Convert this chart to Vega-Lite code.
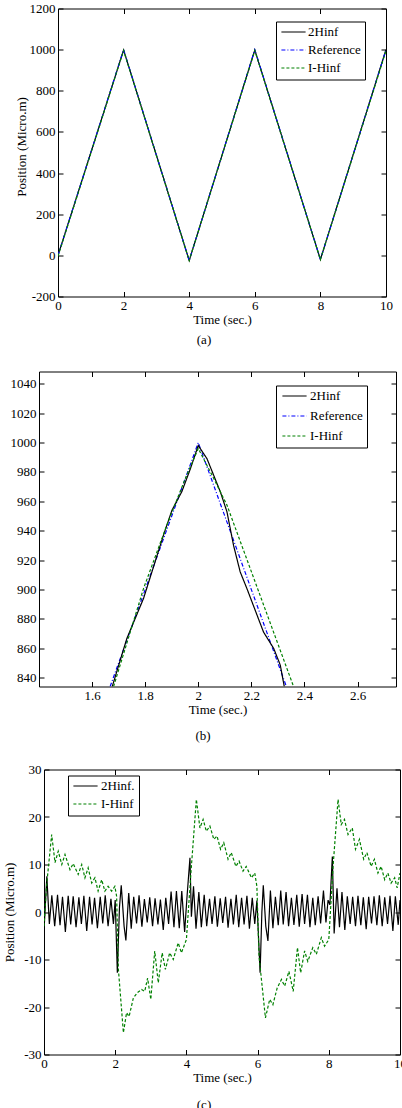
{
 "$schema": "https://vega.github.io/schema/vega-lite/v6.json",
 "padding": {"left": 0, "top": 1.5, "right": 0, "bottom": 0},
 "autosize": {"type": "pad"},
 "background": "white",
 "config": {
  "font": "Liberation Serif, Times New Roman, serif",
  "locale": {"number": {"decimal": ".", "thousands": ",", "grouping": [3], "currency": ["$", ""], "minus": "-"}},
  "view": {"stroke": null},
  "axis": {"labelFont": "Liberation Serif, Times New Roman, serif", "labelFontSize": 13, "labelColor": "black", "titleFont": "Liberation Serif, Times New Roman, serif", "titleFontSize": 13, "titleFontWeight": "normal", "titleColor": "black", "tickColor": "black", "tickSize": -5, "labelPadding": 8, "domain": false, "grid": false, "labelFlush": false, "format": "~f", "titlePadding": 1, "labelOverlap": false},
  "title": {"font": "Liberation Serif, Times New Roman, serif", "fontSize": 13, "fontWeight": "normal", "color": "black"}
 },
 "datasets": {
  "a": [
   {"t":0,"v":0,"s":"2Hinf"},{"t":2,"v":998,"s":"2Hinf"},{"t":4,"v":-25,"s":"2Hinf"},{"t":6,"v":998,"s":"2Hinf"},{"t":8,"v":-20,"s":"2Hinf"},{"t":10,"v":1000,"s":"2Hinf"},
   {"t":0,"v":0,"s":"Reference"},{"t":2,"v":1000,"s":"Reference"},{"t":4,"v":-25,"s":"Reference"},{"t":6,"v":1000,"s":"Reference"},{"t":8,"v":-20,"s":"Reference"},{"t":10,"v":1000,"s":"Reference"},
   {"t":0,"v":-4,"s":"I-Hinf"},{"t":2,"v":996,"s":"I-Hinf"},{"t":4,"v":-25,"s":"I-Hinf"},{"t":6,"v":996,"s":"I-Hinf"},{"t":8,"v":-20,"s":"I-Hinf"},{"t":10,"v":995,"s":"I-Hinf"}
  ],
  "b": [
   {"t":1.668,"v":834,"s":"Reference"},{"t":2.0,"v":1000,"s":"Reference"},{"t":2.332,"v":834,"s":"Reference"},
   {"t":1.676,"v":834,"s":"2Hinf"},{"t":1.731,"v":866.7,"s":"2Hinf"},{"t":1.794,"v":894,"s":"2Hinf"},{"t":1.869,"v":937,"s":"2Hinf"},{"t":1.901,"v":954,"s":"2Hinf"},{"t":1.938,"v":966.6,"s":"2Hinf"},{"t":1.97,"v":982,"s":"2Hinf"},{"t":2.0,"v":998,"s":"2Hinf"},{"t":2.033,"v":989,"s":"2Hinf"},{"t":2.083,"v":966.6,"s":"2Hinf"},{"t":2.108,"v":953,"s":"2Hinf"},{"t":2.133,"v":930,"s":"2Hinf"},{"t":2.158,"v":912,"s":"2Hinf"},{"t":2.183,"v":900.8,"s":"2Hinf"},{"t":2.246,"v":871,"s":"2Hinf"},{"t":2.284,"v":860,"s":"2Hinf"},{"t":2.309,"v":848.6,"s":"2Hinf"},{"t":2.324,"v":834,"s":"2Hinf"},
   {"t":1.681,"v":834,"s":"I-Hinf"},{"t":1.794,"v":900.8,"s":"I-Hinf"},{"t":1.882,"v":944,"s":"I-Hinf"},{"t":1.95,"v":975,"s":"I-Hinf"},{"t":2.0,"v":996,"s":"I-Hinf"},{"t":2.058,"v":975.7,"s":"I-Hinf"},{"t":2.108,"v":957.5,"s":"I-Hinf"},{"t":2.359,"v":834,"s":"I-Hinf"}
  ],
  "c": [
   {"t":0,"v":-4,"s":"2Hinf."},{"t":0.08,"v":7.5,"s":"2Hinf."},{"t":0.15,"v":-2.5,"s":"2Hinf."},{"t":0.22,"v":3.5,"s":"2Hinf."},{"t":0.3,"v":-3,"s":"2Hinf."},{"t":0.38,"v":3.6,"s":"2Hinf."},{"t":0.45,"v":-2.8,"s":"2Hinf."},{"t":0.52,"v":3.2,"s":"2Hinf."},{"t":0.6,"v":-4.2,"s":"2Hinf."},{"t":0.68,"v":3.4,"s":"2Hinf."},{"t":0.75,"v":-2.6,"s":"2Hinf."},{"t":0.82,"v":3.3,"s":"2Hinf."},{"t":0.9,"v":-3.2,"s":"2Hinf."},{"t":0.98,"v":3.1,"s":"2Hinf."},{"t":1.05,"v":-2.5,"s":"2Hinf."},{"t":1.12,"v":3.4,"s":"2Hinf."},{"t":1.2,"v":-4,"s":"2Hinf."},{"t":1.28,"v":3.2,"s":"2Hinf."},{"t":1.35,"v":-2.6,"s":"2Hinf."},{"t":1.42,"v":3,"s":"2Hinf."},{"t":1.5,"v":-3.4,"s":"2Hinf."},{"t":1.58,"v":3.2,"s":"2Hinf."},{"t":1.65,"v":-2.4,"s":"2Hinf."},{"t":1.72,"v":3.5,"s":"2Hinf."},{"t":1.8,"v":-3,"s":"2Hinf."},{"t":1.88,"v":2.8,"s":"2Hinf."},{"t":1.95,"v":-2.5,"s":"2Hinf."},{"t":2.0,"v":2.5,"s":"2Hinf."},{"t":2.06,"v":-12.8,"s":"2Hinf."},{"t":2.12,"v":1,"s":"2Hinf."},{"t":2.17,"v":5.6,"s":"2Hinf."},{"t":2.25,"v":-3,"s":"2Hinf."},{"t":2.3,"v":-6,"s":"2Hinf."},{"t":2.38,"v":4,"s":"2Hinf."},{"t":2.45,"v":-3.5,"s":"2Hinf."},{"t":2.52,"v":3.2,"s":"2Hinf."},{"t":2.6,"v":-2.4,"s":"2Hinf."},{"t":2.67,"v":3.5,"s":"2Hinf."},{"t":2.75,"v":-3.1,"s":"2Hinf."},{"t":2.82,"v":2.7,"s":"2Hinf."},{"t":2.9,"v":-2.2,"s":"2Hinf."},{"t":2.97,"v":3.1,"s":"2Hinf."},{"t":3.05,"v":-3,"s":"2Hinf."},{"t":3.12,"v":2.9,"s":"2Hinf."},{"t":3.2,"v":-2.6,"s":"2Hinf."},{"t":3.27,"v":2.6,"s":"2Hinf."},{"t":3.35,"v":-3.8,"s":"2Hinf."},{"t":3.42,"v":3,"s":"2Hinf."},{"t":3.5,"v":-2.5,"s":"2Hinf."},{"t":3.57,"v":4.3,"s":"2Hinf."},{"t":3.65,"v":-3.2,"s":"2Hinf."},{"t":3.72,"v":4.4,"s":"2Hinf."},{"t":3.8,"v":-3.4,"s":"2Hinf."},{"t":3.87,"v":4.4,"s":"2Hinf."},{"t":3.95,"v":-4.2,"s":"2Hinf."},{"t":4.02,"v":3.5,"s":"2Hinf."},{"t":4.1,"v":11.4,"s":"2Hinf."},{"t":4.14,"v":-1,"s":"2Hinf."},{"t":4.2,"v":5.4,"s":"2Hinf."},{"t":4.27,"v":-3.5,"s":"2Hinf."},{"t":4.35,"v":4.2,"s":"2Hinf."},{"t":4.42,"v":-3.2,"s":"2Hinf."},{"t":4.5,"v":3.6,"s":"2Hinf."},{"t":4.57,"v":-3,"s":"2Hinf."},{"t":4.65,"v":2.8,"s":"2Hinf."},{"t":4.72,"v":-2.5,"s":"2Hinf."},{"t":4.8,"v":3.3,"s":"2Hinf."},{"t":4.87,"v":-3.1,"s":"2Hinf."},{"t":4.95,"v":2.9,"s":"2Hinf."},{"t":5.02,"v":-2.3,"s":"2Hinf."},{"t":5.1,"v":3.2,"s":"2Hinf."},{"t":5.17,"v":-3.3,"s":"2Hinf."},{"t":5.25,"v":2.8,"s":"2Hinf."},{"t":5.32,"v":-2.6,"s":"2Hinf."},{"t":5.4,"v":3.6,"s":"2Hinf."},{"t":5.47,"v":-3.2,"s":"2Hinf."},{"t":5.55,"v":3,"s":"2Hinf."},{"t":5.62,"v":-2.6,"s":"2Hinf."},{"t":5.7,"v":3.4,"s":"2Hinf."},{"t":5.77,"v":-3.5,"s":"2Hinf."},{"t":5.85,"v":3,"s":"2Hinf."},{"t":5.92,"v":-2.5,"s":"2Hinf."},{"t":5.98,"v":2.4,"s":"2Hinf."},{"t":6.07,"v":-12.8,"s":"2Hinf."},{"t":6.12,"v":0,"s":"2Hinf."},{"t":6.16,"v":5.6,"s":"2Hinf."},{"t":6.23,"v":-3,"s":"2Hinf."},{"t":6.29,"v":-6.1,"s":"2Hinf."},{"t":6.36,"v":4.5,"s":"2Hinf."},{"t":6.43,"v":-3.4,"s":"2Hinf."},{"t":6.5,"v":3.2,"s":"2Hinf."},{"t":6.58,"v":-2.8,"s":"2Hinf."},{"t":6.65,"v":4.5,"s":"2Hinf."},{"t":6.72,"v":-2.6,"s":"2Hinf."},{"t":6.8,"v":4.2,"s":"2Hinf."},{"t":6.87,"v":-3,"s":"2Hinf."},{"t":6.95,"v":3,"s":"2Hinf."},{"t":7.02,"v":-2.7,"s":"2Hinf."},{"t":7.1,"v":3.6,"s":"2Hinf."},{"t":7.17,"v":-3.1,"s":"2Hinf."},{"t":7.25,"v":3.8,"s":"2Hinf."},{"t":7.32,"v":-2.5,"s":"2Hinf."},{"t":7.4,"v":3.6,"s":"2Hinf."},{"t":7.47,"v":-3.2,"s":"2Hinf."},{"t":7.55,"v":3,"s":"2Hinf."},{"t":7.62,"v":-2.8,"s":"2Hinf."},{"t":7.7,"v":3.3,"s":"2Hinf."},{"t":7.77,"v":-2.4,"s":"2Hinf."},{"t":7.85,"v":4.5,"s":"2Hinf."},{"t":7.92,"v":-2.2,"s":"2Hinf."},{"t":7.98,"v":2.5,"s":"2Hinf."},{"t":8.03,"v":1.5,"s":"2Hinf."},{"t":8.1,"v":11.7,"s":"2Hinf."},{"t":8.15,"v":-4.5,"s":"2Hinf."},{"t":8.23,"v":5,"s":"2Hinf."},{"t":8.3,"v":-3.2,"s":"2Hinf."},{"t":8.37,"v":4.2,"s":"2Hinf."},{"t":8.45,"v":-3.8,"s":"2Hinf."},{"t":8.52,"v":3.3,"s":"2Hinf."},{"t":8.6,"v":-2.5,"s":"2Hinf."},{"t":8.67,"v":3.2,"s":"2Hinf."},{"t":8.75,"v":-3,"s":"2Hinf."},{"t":8.82,"v":3.4,"s":"2Hinf."},{"t":8.9,"v":-2.8,"s":"2Hinf."},{"t":8.97,"v":3.1,"s":"2Hinf."},{"t":9.05,"v":-3.6,"s":"2Hinf."},{"t":9.12,"v":3.2,"s":"2Hinf."},{"t":9.2,"v":-2.4,"s":"2Hinf."},{"t":9.27,"v":3.3,"s":"2Hinf."},{"t":9.35,"v":-2.8,"s":"2Hinf."},{"t":9.42,"v":3.5,"s":"2Hinf."},{"t":9.5,"v":-3,"s":"2Hinf."},{"t":9.57,"v":3.1,"s":"2Hinf."},{"t":9.65,"v":-2.5,"s":"2Hinf."},{"t":9.72,"v":3.4,"s":"2Hinf."},{"t":9.8,"v":-4,"s":"2Hinf."},{"t":9.87,"v":3.3,"s":"2Hinf."},{"t":9.95,"v":-2.7,"s":"2Hinf."},{"t":10,"v":2.5,"s":"2Hinf."},
   {"t":0,"v":-3,"s":"I-Hinf"},{"t":0.07,"v":5.4,"s":"I-Hinf"},{"t":0.215,"v":16.3,"s":"I-Hinf"},{"t":0.31,"v":10.4,"s":"I-Hinf"},{"t":0.4,"v":12.8,"s":"I-Hinf"},{"t":0.5,"v":10,"s":"I-Hinf"},{"t":0.59,"v":12.1,"s":"I-Hinf"},{"t":0.73,"v":8.9,"s":"I-Hinf"},{"t":0.82,"v":10.2,"s":"I-Hinf"},{"t":0.96,"v":7.9,"s":"I-Hinf"},{"t":1.06,"v":10,"s":"I-Hinf"},{"t":1.15,"v":7.2,"s":"I-Hinf"},{"t":1.24,"v":9.3,"s":"I-Hinf"},{"t":1.34,"v":6.1,"s":"I-Hinf"},{"t":1.43,"v":7.2,"s":"I-Hinf"},{"t":1.52,"v":4.4,"s":"I-Hinf"},{"t":1.62,"v":6.8,"s":"I-Hinf"},{"t":1.71,"v":4.4,"s":"I-Hinf"},{"t":1.8,"v":5.4,"s":"I-Hinf"},{"t":1.9,"v":4.4,"s":"I-Hinf"},{"t":1.99,"v":5.4,"s":"I-Hinf"},{"t":2.04,"v":3.3,"s":"I-Hinf"},{"t":2.09,"v":-12.1,"s":"I-Hinf"},{"t":2.23,"v":-25.4,"s":"I-Hinf"},{"t":2.32,"v":-21.2,"s":"I-Hinf"},{"t":2.39,"v":-22,"s":"I-Hinf"},{"t":2.51,"v":-18.1,"s":"I-Hinf"},{"t":2.62,"v":-17,"s":"I-Hinf"},{"t":2.74,"v":-16.3,"s":"I-Hinf"},{"t":2.83,"v":-16.7,"s":"I-Hinf"},{"t":2.91,"v":-13.9,"s":"I-Hinf"},{"t":3.0,"v":-18.4,"s":"I-Hinf"},{"t":3.11,"v":-8.2,"s":"I-Hinf"},{"t":3.21,"v":-14.9,"s":"I-Hinf"},{"t":3.32,"v":-8.6,"s":"I-Hinf"},{"t":3.41,"v":-12.1,"s":"I-Hinf"},{"t":3.53,"v":-8.6,"s":"I-Hinf"},{"t":3.63,"v":-10,"s":"I-Hinf"},{"t":3.77,"v":-6.5,"s":"I-Hinf"},{"t":3.86,"v":-8.6,"s":"I-Hinf"},{"t":4.0,"v":-5.8,"s":"I-Hinf"},{"t":4.14,"v":9.6,"s":"I-Hinf"},{"t":4.28,"v":23.7,"s":"I-Hinf"},{"t":4.38,"v":17.7,"s":"I-Hinf"},{"t":4.47,"v":19.5,"s":"I-Hinf"},{"t":4.56,"v":17,"s":"I-Hinf"},{"t":4.66,"v":18.1,"s":"I-Hinf"},{"t":4.77,"v":15.3,"s":"I-Hinf"},{"t":4.86,"v":16,"s":"I-Hinf"},{"t":4.96,"v":13.2,"s":"I-Hinf"},{"t":5.05,"v":14.6,"s":"I-Hinf"},{"t":5.17,"v":11.1,"s":"I-Hinf"},{"t":5.26,"v":12.5,"s":"I-Hinf"},{"t":5.39,"v":9.6,"s":"I-Hinf"},{"t":5.48,"v":10.7,"s":"I-Hinf"},{"t":5.59,"v":8.6,"s":"I-Hinf"},{"t":5.68,"v":9.6,"s":"I-Hinf"},{"t":5.83,"v":7.2,"s":"I-Hinf"},{"t":5.92,"v":8.2,"s":"I-Hinf"},{"t":5.98,"v":5.4,"s":"I-Hinf"},{"t":6.04,"v":-9.3,"s":"I-Hinf"},{"t":6.22,"v":-22.3,"s":"I-Hinf"},{"t":6.34,"v":-18.4,"s":"I-Hinf"},{"t":6.43,"v":-19.5,"s":"I-Hinf"},{"t":6.55,"v":-16,"s":"I-Hinf"},{"t":6.67,"v":-14.2,"s":"I-Hinf"},{"t":6.76,"v":-15.6,"s":"I-Hinf"},{"t":6.88,"v":-12.5,"s":"I-Hinf"},{"t":7.0,"v":-16.7,"s":"I-Hinf"},{"t":7.12,"v":-7.5,"s":"I-Hinf"},{"t":7.21,"v":-12.8,"s":"I-Hinf"},{"t":7.32,"v":-8.2,"s":"I-Hinf"},{"t":7.41,"v":-10.4,"s":"I-Hinf"},{"t":7.55,"v":-7.5,"s":"I-Hinf"},{"t":7.65,"v":-8.9,"s":"I-Hinf"},{"t":7.79,"v":-5.4,"s":"I-Hinf"},{"t":7.88,"v":-7.2,"s":"I-Hinf"},{"t":8.0,"v":-5.8,"s":"I-Hinf"},{"t":8.12,"v":9.6,"s":"I-Hinf"},{"t":8.26,"v":23.7,"s":"I-Hinf"},{"t":8.35,"v":18.4,"s":"I-Hinf"},{"t":8.44,"v":19.5,"s":"I-Hinf"},{"t":8.54,"v":16.3,"s":"I-Hinf"},{"t":8.66,"v":17.7,"s":"I-Hinf"},{"t":8.75,"v":13.2,"s":"I-Hinf"},{"t":8.86,"v":15.3,"s":"I-Hinf"},{"t":8.98,"v":11.1,"s":"I-Hinf"},{"t":9.07,"v":12.5,"s":"I-Hinf"},{"t":9.19,"v":9.6,"s":"I-Hinf"},{"t":9.28,"v":11.1,"s":"I-Hinf"},{"t":9.38,"v":8.2,"s":"I-Hinf"},{"t":9.47,"v":9.6,"s":"I-Hinf"},{"t":9.57,"v":6.8,"s":"I-Hinf"},{"t":9.66,"v":8.2,"s":"I-Hinf"},{"t":9.75,"v":6.1,"s":"I-Hinf"},{"t":9.85,"v":7.2,"s":"I-Hinf"},{"t":9.92,"v":5.1,"s":"I-Hinf"},{"t":10,"v":8.2,"s":"I-Hinf"}
  ]
 },
 "spacing": 0,
 "resolve": {"scale": {"x": "independent", "y": "independent", "color": "independent", "strokeDash": "independent"}, "legend": {"color": "independent", "strokeDash": "independent"}},
 "vconcat": [
  {
   "bounds": "flush", "spacing": 0,
   "resolve": {"scale": {"x": "independent", "y": "independent", "color": "independent", "strokeDash": "independent"}, "legend": {"color": "independent", "strokeDash": "independent"}},
   "hconcat": [
    {"width": 58, "height": 362, "data": {"values": []}, "mark": "point", "encoding": {}},
    {
     "width": 328, "height": 288,
     "view": {"stroke": "black", "strokeWidth": 1},
     "data": {"name": "a"},
     "title": {"text": "(a)", "orient": "bottom", "anchor": "middle", "frame": "group", "dx": -18, "offset": 7},
     "layer": [
      {"mark": {"type": "line", "strokeWidth": 1.2, "clip": true},
       "encoding": {
        "x": {"field": "t", "type": "quantitative", "scale": {"domain": [0, 10], "nice": false, "zero": false}, "axis": {"values": [0, 2, 4, 6, 8, 10], "title": "Time (sec.)"}},
        "y": {"field": "v", "type": "quantitative", "scale": {"domain": [-200, 1200], "nice": false, "zero": false}, "axis": {"values": [-200, 0, 200, 400, 600, 800, 1000, 1200], "title": "Position (Micro.m)", "titleY": 138}},
        "color": {"field": "s", "type": "nominal", "scale": {"domain": ["2Hinf", "Reference", "I-Hinf"], "range": ["#000000", "#0000ff", "#008000"]},
         "legend": {"title": null, "orient": "none", "legendX": 218, "legendY": 13, "symbolType": "M-2.2,0H2.2", "symbolSize": 121, "symbolStrokeWidth": 1.2, "symbolOffset": 7, "labelOffset": 8, "labelFontSize": 13, "labelFont": "Liberation Serif, Times New Roman, serif", "labelColor": "black", "strokeColor": "black", "fillColor": "white", "padding": 4, "rowPadding": 4, "cornerRadius": 0}},
        "strokeDash": {"field": "s", "type": "nominal", "scale": {"domain": ["2Hinf", "Reference", "I-Hinf"], "range": [[1, 0], [4, 2, 1, 2], [3, 2]]},
         "legend": {"title": null, "orient": "none", "legendX": 218, "legendY": 13, "symbolType": "M-2.2,0H2.2", "symbolSize": 121, "symbolStrokeWidth": 1.2, "symbolOffset": 7, "labelOffset": 8, "labelFontSize": 13, "labelFont": "Liberation Serif, Times New Roman, serif", "labelColor": "black", "strokeColor": "black", "fillColor": "white", "padding": 4, "rowPadding": 4, "cornerRadius": 0}}
       }},
      {"mark": {"type": "point", "opacity": 0},
       "encoding": {
        "x": {"field": "t", "type": "quantitative", "axis": {"orient": "top", "values": [0, 2, 4, 6, 8, 10], "labels": false, "title": null}},
        "y": {"field": "v", "type": "quantitative", "axis": {"orient": "right", "values": [-200, 0, 200, 400, 600, 800, 1000, 1200], "labels": false, "title": null}}
       }}
     ],
     "resolve": {"axis": {"x": "independent", "y": "independent"}}
    }
   ]
  },
  {
   "bounds": "flush", "spacing": 0,
   "resolve": {"scale": {"x": "independent", "y": "independent", "color": "independent", "strokeDash": "independent"}, "legend": {"color": "independent", "strokeDash": "independent"}},
   "hconcat": [
    {"width": 39, "height": 390.5, "data": {"values": []}, "mark": "point", "encoding": {}},
    {
     "width": 357, "height": 315,
     "view": {"stroke": "black", "strokeWidth": 1},
     "data": {"name": "b"},
     "title": {"text": "(b)", "orient": "bottom", "anchor": "middle", "frame": "group", "dx": -14.5, "offset": 13},
     "layer": [
      {"mark": {"type": "line", "strokeWidth": 1.2, "clip": true},
       "encoding": {
        "x": {"field": "t", "type": "quantitative", "scale": {"domain": [1.4, 2.745], "nice": false, "zero": false}, "axis": {"values": [1.6, 1.8, 2, 2.2, 2.4, 2.6], "title": "Time (sec.)"}},
        "y": {"field": "v", "type": "quantitative", "scale": {"domain": [834, 1048.4], "nice": false, "zero": false}, "axis": {"values": [840, 860, 880, 900, 920, 940, 960, 980, 1000, 1020, 1040], "title": null}},
        "color": {"field": "s", "type": "nominal", "scale": {"domain": ["2Hinf", "Reference", "I-Hinf"], "range": ["#000000", "#0000ff", "#008000"]},
         "legend": {"title": null, "orient": "none", "legendX": 237, "legendY": 14, "symbolType": "M-2.2,0H2.2", "symbolSize": 121, "symbolStrokeWidth": 1.2, "symbolOffset": 8, "labelOffset": 9, "labelFontSize": 13, "labelFont": "Liberation Serif, Times New Roman, serif", "labelColor": "black", "strokeColor": "black", "fillColor": "white", "padding": 4, "rowPadding": 6, "cornerRadius": 0}},
        "strokeDash": {"field": "s", "type": "nominal", "scale": {"domain": ["2Hinf", "Reference", "I-Hinf"], "range": [[1, 0], [4, 2, 1, 2], [3, 2]]},
         "legend": {"title": null, "orient": "none", "legendX": 237, "legendY": 14, "symbolType": "M-2.2,0H2.2", "symbolSize": 121, "symbolStrokeWidth": 1.2, "symbolOffset": 8, "labelOffset": 9, "labelFontSize": 13, "labelFont": "Liberation Serif, Times New Roman, serif", "labelColor": "black", "strokeColor": "black", "fillColor": "white", "padding": 4, "rowPadding": 6, "cornerRadius": 0}}
       }},
      {"mark": {"type": "point", "opacity": 0},
       "encoding": {
        "x": {"field": "t", "type": "quantitative", "axis": {"orient": "top", "values": [1.6, 1.8, 2, 2.2, 2.4, 2.6], "labels": false, "title": null}},
        "y": {"field": "v", "type": "quantitative", "axis": {"orient": "right", "values": [840, 860, 880, 900, 920, 940, 960, 980, 1000, 1020, 1040], "labels": false, "title": null}}
       }}
     ],
     "resolve": {"axis": {"x": "independent", "y": "independent"}}
    }
   ]
  },
  {
   "bounds": "flush", "spacing": 0,
   "resolve": {"scale": {"x": "independent", "y": "independent", "color": "independent", "strokeDash": "independent"}, "legend": {"color": "independent", "strokeDash": "independent"}},
   "hconcat": [
    {"width": 44, "height": 285, "data": {"values": []}, "mark": "point", "encoding": {}},
    {
     "width": 356, "height": 285,
     "view": {"stroke": "black", "strokeWidth": 1},
     "data": {"name": "c"},
     "title": {"text": "(c)", "orient": "bottom", "anchor": "middle", "frame": "group", "dx": -18, "offset": 14},
     "layer": [
      {"mark": {"type": "line", "strokeWidth": 1.2, "clip": true},
       "encoding": {
        "x": {"field": "t", "type": "quantitative", "scale": {"domain": [0, 10], "nice": false, "zero": false}, "axis": {"values": [0, 2, 4, 6, 8, 10], "title": "Time (sec.)"}},
        "y": {"field": "v", "type": "quantitative", "scale": {"domain": [-30, 30], "nice": false, "zero": false}, "axis": {"values": [-30, -20, -10, 0, 10, 20, 30], "title": "Position (Micro.m)", "titlePadding": 7}},
        "color": {"field": "s", "type": "nominal", "scale": {"domain": ["2Hinf.", "I-Hinf"], "range": ["#000000", "#008000"]},
         "legend": {"title": null, "orient": "none", "legendX": 24, "legendY": 6, "symbolType": "M-2.2,0H2.2", "symbolSize": 121, "symbolStrokeWidth": 1.2, "symbolOffset": 7, "labelOffset": 9, "labelFontSize": 13, "labelFont": "Liberation Serif, Times New Roman, serif", "labelColor": "black", "strokeColor": "black", "fillColor": "white", "padding": 4, "rowPadding": 4, "cornerRadius": 0}},
        "strokeDash": {"field": "s", "type": "nominal", "scale": {"domain": ["2Hinf.", "I-Hinf"], "range": [[1, 0], [3, 2]]},
         "legend": {"title": null, "orient": "none", "legendX": 24, "legendY": 6, "symbolType": "M-2.2,0H2.2", "symbolSize": 121, "symbolStrokeWidth": 1.2, "symbolOffset": 7, "labelOffset": 9, "labelFontSize": 13, "labelFont": "Liberation Serif, Times New Roman, serif", "labelColor": "black", "strokeColor": "black", "fillColor": "white", "padding": 4, "rowPadding": 4, "cornerRadius": 0}}
       }},
      {"mark": {"type": "point", "opacity": 0},
       "encoding": {
        "x": {"field": "t", "type": "quantitative", "axis": {"orient": "top", "values": [0, 2, 4, 6, 8, 10], "labels": false, "title": null}},
        "y": {"field": "v", "type": "quantitative", "axis": {"orient": "right", "values": [-30, -20, -10, 0, 10, 20, 30], "labels": false, "title": null}}
       }}
     ],
     "resolve": {"axis": {"x": "independent", "y": "independent"}}
    }
   ]
  }
 ]
}
